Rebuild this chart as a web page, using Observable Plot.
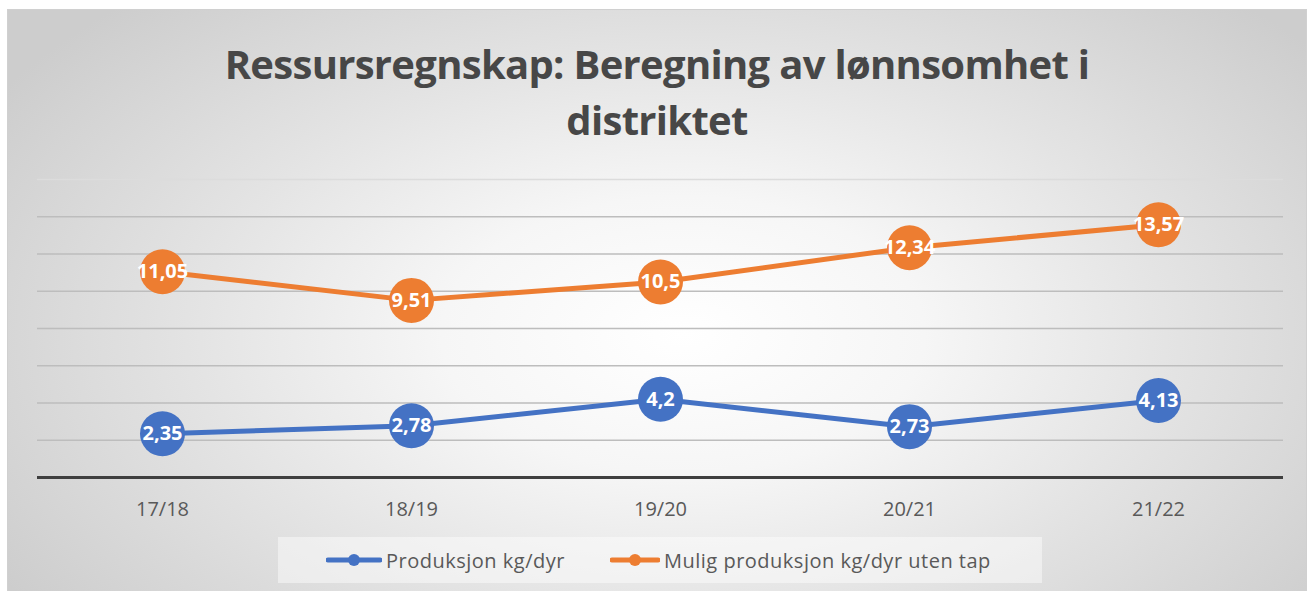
<!DOCTYPE html>
<html>
<head>
<meta charset="utf-8">
<script src="https://cdn.jsdelivr.net/npm/d3@7"></script>
<script src="https://cdn.jsdelivr.net/npm/@observablehq/plot@0.6"></script>
<style>
  html, body { margin: 0; padding: 0; background: #fff; }
  body { width: 1314px; height: 591px; position: relative; overflow: hidden; font-family: "Open Sans", sans-serif; }
  #frame { position: absolute; left: 7px; top: 9px; width: 1298px; height: 590px; border: 1px solid #d0d0d0;
    background: radial-gradient(ellipse 62% 78% at 52% 55%, #ffffff 0%, #f6f6f6 30%, #e4e4e4 60%, #cdcdcd 100%); }
  #title { position: absolute; left: 0; top: 36px; width: 1314px; text-align: center; font-weight: 700; font-size: 40px;
    letter-spacing: -0.7px; line-height: 56px; color: #474747; }
  #chart { position: absolute; left: 0; top: 150px; }
  #legendbox { position: absolute; left: 278px; top: 537px; width: 764px; height: 46px; background: rgba(255,255,255,0.45); }
  .leg { position: absolute; top: 0; height: 46px; display: flex; align-items: center; font-size: 20px; color: #595959; letter-spacing: 0.5px; }
  .leg svg { margin-right: 4px; }
</style>
</head>
<body>
<div id="frame"></div>
<div id="title"></div>
<div id="chart"></div>
<div id="legendbox"></div>
<script>
const titleLines = ["Ressursregnskap: Beregning av lønnsomhet i", "distriktet"];
const seasons = ["17/18", "18/19", "19/20", "20/21", "21/22"];
const produksjon = [2.35, 2.78, 4.2, 2.73, 4.13];
const muligProduksjon = [11.05, 9.51, 10.5, 12.34, 13.57];
const seriesNames = ["Produksjon kg/dyr", "Mulig produksjon kg/dyr uten tap"];
const seriesColors = ["#4472C4", "#ED7D31"];
const gridValues = [2, 4, 6, 8, 10, 12, 14];
const topGridValues = [16];
const yDomain = [0, 16];

document.getElementById("title").innerHTML = titleLines.join("<br>");

const fmt = v => String(v).replace(".", ",");
const rowsA = seasons.map((s, i) => ({season: s, value: produksjon[i], label: fmt(produksjon[i])}));
const rowsB = seasons.map((s, i) => ({season: s, value: muligProduksjon[i], label: fmt(muligProduksjon[i])}));

const labelStyle = {fill: "white", fontWeight: "bold", fontSize: 20, fontFamily: "Open Sans"};

const chart = Plot.plot({
  width: 1314,
  height: 380,
  marginLeft: 37,
  marginRight: 31,
  marginTop: 29,
  marginBottom: 53,
  style: {background: "transparent", fontFamily: "Open Sans", color: "#595959", overflow: "visible"},
  x: {type: "point", domain: seasons, padding: 0.5, label: null},
  y: {domain: yDomain, axis: null},
  marks: [
    Plot.ruleY(topGridValues, {stroke: "#dcdcdc", strokeWidth: 1.5}),
    Plot.ruleY(gridValues, {stroke: "#bdbdbd", strokeWidth: 1.5}),
    Plot.ruleY([0], {stroke: "#3f3f3f", strokeWidth: 3}),
    Plot.line(rowsA, {x: "season", y: "value", stroke: seriesColors[0], strokeWidth: 5}),
    Plot.dot(rowsA, {x: "season", y: "value", r: 22.5, fill: seriesColors[0]}),
    Plot.text(rowsA, {x: "season", y: "value", text: "label", ...labelStyle}),
    Plot.line(rowsB, {x: "season", y: "value", stroke: seriesColors[1], strokeWidth: 5}),
    Plot.dot(rowsB, {x: "season", y: "value", r: 22.5, fill: seriesColors[1]}),
    Plot.text(rowsB, {x: "season", y: "value", text: "label", ...labelStyle}),
    Plot.axisX({tickSize: 0, tickPadding: 24, fontSize: 20, fill: "#595959", label: null})
  ]
});
document.getElementById("chart").appendChild(chart);

// legend
const legendbox = document.getElementById("legendbox");
const legendItems = [
  {name: seriesNames[0], color: seriesColors[0], left: 326 - 278, w: 56},
  {name: seriesNames[1], color: seriesColors[1], left: 610 - 278, w: 50}
];
legendItems.forEach(it => {
  const d = document.createElement("div");
  d.className = "leg";
  d.style.left = it.left + "px";
  d.innerHTML = `<svg width="${it.w}" height="14"><line x1="2" x2="${it.w-2}" y1="7" y2="7" stroke="${it.color}" stroke-width="5" stroke-linecap="round"/><circle cx="${it.w/2}" cy="7" r="6" fill="${it.color}"/></svg><span>${it.name}</span>`;
  legendbox.appendChild(d);
});
</script>
</body>
</html>
